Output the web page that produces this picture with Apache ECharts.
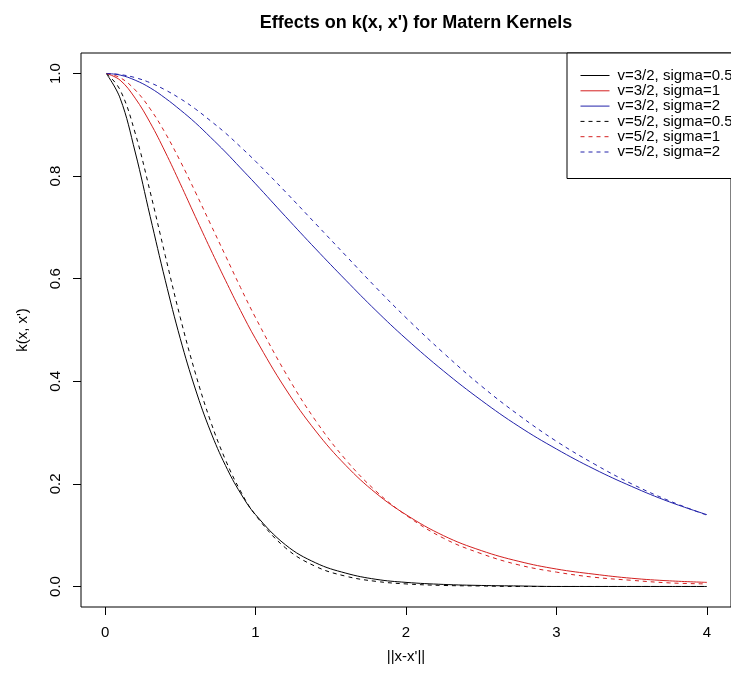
<!DOCTYPE html>
<html>
<head>
<meta charset="utf-8">
<script src="https://cdn.jsdelivr.net/npm/echarts@6/dist/echarts.min.js"></script>
<style>
  html, body { margin: 0; padding: 0; background: #fff; }
  #main { width: 731px; height: 679px; }
</style>
</head>
<body>
<div id="main"></div>
<script>
// distance ||x-x'||
var dist = [0.01, 0.1, 0.2, 0.3, 0.4, 0.5, 0.6, 0.7, 0.8, 0.9, 1.0, 1.2, 1.4, 1.6, 1.8, 2.0, 2.25, 2.5, 2.75, 3.0, 3.25, 3.5, 3.75, 4.0];

// nu = 3/2
var v32_s05 = [0.999, 0.952, 0.847, 0.721, 0.597, 0.483, 0.385, 0.303, 0.236, 0.182, 0.140, 0.081, 0.046, 0.026, 0.014, 0.008, 0.004, 0.002, 0.001, 0.000, 0.000, 0.000, 0.000, 0.000];
var v32_s1 = [1.000, 0.987, 0.952, 0.904, 0.847, 0.785, 0.721, 0.658, 0.597, 0.538, 0.483, 0.385, 0.303, 0.236, 0.182, 0.140, 0.099, 0.070, 0.049, 0.034, 0.024, 0.016, 0.011, 0.008];
var v32_s2 = [1.000, 0.997, 0.987, 0.972, 0.952, 0.929, 0.904, 0.876, 0.847, 0.816, 0.785, 0.721, 0.658, 0.597, 0.538, 0.483, 0.420, 0.363, 0.312, 0.268, 0.229, 0.195, 0.165, 0.140];
// nu = 5/2
var v52_s05 = [1.000, 0.968, 0.884, 0.769, 0.645, 0.524, 0.416, 0.323, 0.247, 0.186, 0.139, 0.075, 0.039, 0.020, 0.010, 0.005, 0.002, 0.001, 0.000, 0.000, 0.000, 0.000, 0.000, 0.000];
var v52_s1 = [1.000, 0.992, 0.968, 0.931, 0.884, 0.829, 0.769, 0.707, 0.645, 0.583, 0.524, 0.416, 0.323, 0.247, 0.186, 0.139, 0.094, 0.064, 0.042, 0.028, 0.018, 0.012, 0.007, 0.005];
var v52_s2 = [1.000, 0.998, 0.992, 0.982, 0.968, 0.951, 0.931, 0.908, 0.884, 0.857, 0.829, 0.769, 0.707, 0.645, 0.583, 0.524, 0.455, 0.391, 0.334, 0.283, 0.239, 0.200, 0.167, 0.139];

var seriesNames = ['v=3/2, sigma=0.5', 'v=3/2, sigma=1', 'v=3/2, sigma=2', 'v=5/2, sigma=0.5', 'v=5/2, sigma=1', 'v=5/2, sigma=2'];
var xTicks = [0, 1, 2, 3, 4];
var yTicks = [0, 0.2, 0.4, 0.6, 0.8, 1.0];

var colorList = ['#000000', '#d42020', '#2222aa'];

function pairs(ys) {
  var out = [];
  for (var i = 0; i < dist.length; i++) out.push([dist[i], ys[i]]);
  return out;
}

function makeLine(name, ys, color, dashed) {
  return {
    name: name,
    type: 'line',
    data: pairs(ys),
    symbol: 'none',
    showSymbol: false,
    smooth: 0.4,
    lineStyle: { color: color, width: 1, type: dashed ? [4, 4] : 'solid' },
    itemStyle: { color: color },
    emphasis: { disabled: true }
  };
}

var chart = echarts.init(document.getElementById('main'));
var font = 'Arial, "Liberation Sans", sans-serif';

chart.setOption({
  animation: false,
  backgroundColor: '#fff',
  title: {
    text: "Effects on k(x, x') for Matern Kernels",
    left: 411,
    top: 9,
    textAlign: 'center',
    textStyle: { fontFamily: font, fontSize: 18, fontWeight: 'bold', color: '#000' }
  },
  legend: {
    orient: 'vertical',
    left: 567,
    top: 53,
    padding: [15, 10, 19, 13],
    itemWidth: 29,
    itemHeight: 10,
    itemGap: 0.3,
    backgroundColor: '#fff',
    borderColor: '#000',
    borderWidth: 1,
    borderRadius: 0,
    data: seriesNames,
    itemStyle: { opacity: 0 },
    lineStyle: { width: 1 },
    textStyle: { fontFamily: font, fontSize: 15, color: '#000', lineHeight: 15, padding: [0, 0, 0, 3] }
  },
  grid: { left: 81, top: 53, right: -10, bottom: 72, show: true, borderColor: '#000', borderWidth: 1, containLabel: false },
  xAxis: {
    type: 'value',
    min: -0.16,
    max: 4.16,
    name: "||x-x'||",
    nameLocation: 'middle',
    nameGap: 42,
    nameTextStyle: { fontFamily: font, fontSize: 15, color: '#000' },
    axisLine: { show: false, onZero: false },
    splitLine: { show: false },
    axisTick: { show: true, length: 8, lineStyle: { color: '#000' }, customValues: xTicks },
    axisLabel: { fontFamily: font, fontSize: 15, color: '#000', margin: 18, customValues: xTicks }
  },
  yAxis: {
    type: 'value',
    min: -0.04,
    max: 1.04,
    name: "k(x, x')",
    nameLocation: 'middle',
    nameGap: 51,
    nameTextStyle: { fontFamily: font, fontSize: 15, color: '#000' },
    axisLine: { show: false, onZero: false },
    splitLine: { show: false },
    axisTick: { show: true, length: 8, lineStyle: { color: '#000' }, customValues: yTicks },
    axisLabel: {
      fontFamily: font, fontSize: 15, color: '#000', margin: 18, rotate: 90,
      customValues: yTicks,
      formatter: function (v) { return v.toFixed(1); }
    }
  },
  series: [
    makeLine(seriesNames[0], v32_s05, colorList[0], false),
    makeLine(seriesNames[1], v32_s1, colorList[1], false),
    makeLine(seriesNames[2], v32_s2, colorList[2], false),
    makeLine(seriesNames[3], v52_s05, colorList[0], true),
    makeLine(seriesNames[4], v52_s1, colorList[1], true),
    makeLine(seriesNames[5], v52_s2, colorList[2], true)
  ]
});
</script>
</body>
</html>
